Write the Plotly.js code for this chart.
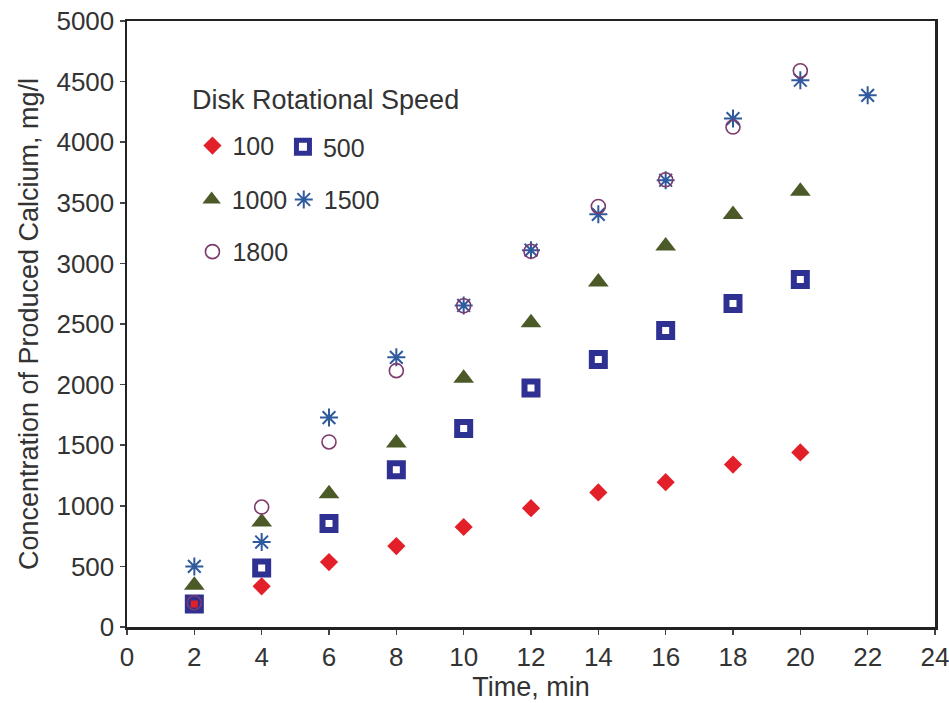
<!DOCTYPE html>
<html>
<head>
<meta charset="utf-8">
<script src="https://cdn.plot.ly/plotly-3.0.1.min.js"></script>
<style>
html,body{margin:0;padding:0;background:#fff;}
#chart{width:949px;height:703px;}
</style>
</head>
<body>
<div id="chart"></div>
<script>
// ---- data ----
var time = [2, 4, 6, 8, 10, 12, 14, 16, 18, 20];
var time1500 = [2, 4, 6, 8, 10, 12, 14, 16, 18, 20, 22];
var s100 = [190, 336, 536, 668, 825, 980, 1110, 1195, 1340, 1440];
var s500 = [190, 487, 853, 1298, 1637, 1972, 2207, 2446, 2669, 2867];
var s1000 = [345, 866, 1100, 1518, 2052, 2510, 2847, 3144, 3403, 3595];
var s1500 = [500, 701, 1728, 2225, 2653, 3109, 3405, 3686, 4195, 4511, 4387];
var s1800 = [200, 990, 1527, 2115, 2650, 3100, 3470, 3690, 4125, 4590];
var seriesNames = ['100', '500', '1000', '1500', '1800'];
var legendTitle = 'Disk Rotational Speed';
var xTitle = 'Time, min';
var yTitle = 'Concentration of Produced Calcium, mg/l';

var FONT = 'Liberation Sans, Arial, Helvetica, sans-serif';
var TXT = '#333333';

var traces = [
  {x: time, y: s100, name: seriesNames[0], legend: 'legend',
   marker: {symbol: 'diamond', size: 14, color: '#e3202a'}},
  {x: time, y: s500, name: seriesNames[1], legend: 'legend2',
   marker: {symbol: 'square-open', size: 13, color: '#2e3192', line: {width: 6, color: '#2e3192'}}},
  {x: time, y: s1000, name: seriesNames[2], legend: 'legend3',
   marker: {symbol: 'triangle-up', size: 18, color: '#4c5a27'}},
  {x: time1500, y: s1500, name: seriesNames[3], legend: 'legend4',
   marker: {symbol: 'asterisk-open', size: 15, color: '#2f5a9e', line: {width: 2, color: '#2f5a9e'}}},
  {x: time, y: s1800, name: seriesNames[4], legend: 'legend5',
   marker: {symbol: 'circle-open', size: 14, color: '#7d3a6c', line: {width: 1.6, color: '#7d3a6c'}}}
];
traces.forEach(function (t) { t.type = 'scatter'; t.mode = 'markers'; t.showlegend = true; });

function leg(x, y) {
  return {x: x, y: y, xanchor: 'left', yanchor: 'middle', bgcolor: 'rgba(0,0,0,0)',
          borderwidth: 0, font: {family: FONT, size: 25, color: TXT}, tracegroupgap: 0};
}

var axisCommon = {
  showgrid: false, zeroline: false, showline: true, mirror: true,
  linecolor: '#222', linewidth: 2.5, ticks: 'outside', ticklen: 5, tickwidth: 1.5,
  tickcolor: '#444', tickfont: {family: FONT, size: 26, color: TXT},
  ticklabeloverflow: 'allow'
};

var layout = {
  width: 949, height: 703,
  margin: {l: 127, r: 14, t: 21, b: 76},
  paper_bgcolor: '#fff', plot_bgcolor: '#fff',
  font: {family: FONT, color: TXT},
  xaxis: Object.assign({}, axisCommon, {
    range: [0, 24], dtick: 2, tick0: 0,
    title: {text: xTitle, font: {family: FONT, size: 27, color: TXT}, standoff: 4}
  }),
  yaxis: Object.assign({}, axisCommon, {
    range: [0, 5000], dtick: 500, tick0: 0,
    title: {text: yTitle, font: {family: FONT, size: 27, color: TXT}, standoff: 10}
  }),
  legend: leg(0.081, 0.794),
  legend2: leg(0.193, 0.792),
  legend3: leg(0.080, 0.705),
  legend4: leg(0.194, 0.705),
  legend5: leg(0.081, 0.619),
  annotations: [{
    text: legendTitle, xref: 'paper', yref: 'paper', x: 0.078, y: 0.8696,
    xanchor: 'left', yanchor: 'middle', showarrow: false,
    font: {family: FONT, size: 27, color: TXT}
  }]
};

Plotly.newPlot('chart', traces, layout, {displayModeBar: false, staticPlot: true});
</script>
</body>
</html>
